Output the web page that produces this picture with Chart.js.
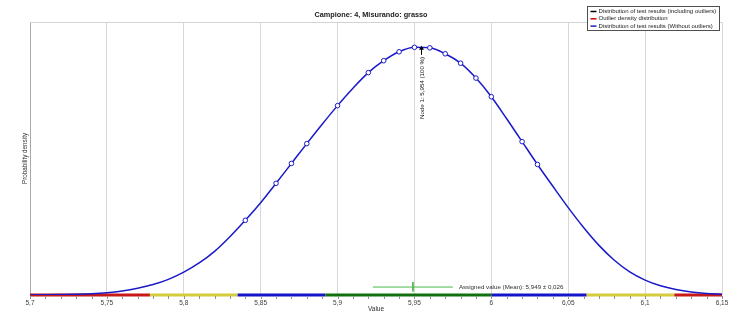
<!DOCTYPE html>
<html>
<head>
<meta charset="utf-8">
<script src="https://cdn.jsdelivr.net/npm/chart.js@4/dist/chart.umd.min.js"></script>
<style>
  body { margin: 0; background: #fff; }
  #densityChart { display: block; }
</style>
</head>
<body>
<canvas id="densityChart" width="742" height="334"></canvas>
<script>
// Density curve of the test results (without outliers)
const curveX = [5.70, 5.71, 5.72, 5.73, 5.74, 5.75, 5.76, 5.77, 5.78, 5.79,
                5.80, 5.81, 5.82, 5.83, 5.84, 5.85, 5.86, 5.87, 5.88, 5.89,
                5.90, 5.91, 5.92, 5.93, 5.94, 5.95, 5.96, 5.97, 5.98, 5.99,
                6.00, 6.01, 6.02, 6.03, 6.04, 6.05, 6.06, 6.07, 6.08, 6.09,
                6.10, 6.11, 6.12, 6.13, 6.14, 6.15];
const curveY = [0.000, 0.001, 0.002, 0.003, 0.005, 0.009, 0.016, 0.027, 0.042, 0.063,
                0.092, 0.129, 0.176, 0.235, 0.301, 0.372, 0.450, 0.530, 0.610, 0.688,
                0.763, 0.833, 0.896, 0.944, 0.980, 0.998, 0.996, 0.972, 0.934, 0.874,
                0.799, 0.710, 0.618, 0.526, 0.438, 0.352, 0.272, 0.200, 0.140, 0.093,
                0.060, 0.037, 0.022, 0.012, 0.006, 0.003];

// Individual results shown as circles on the curve
const resultX = [5.84, 5.86, 5.87, 5.88, 5.90, 5.92, 5.93, 5.94, 5.95, 5.96, 5.97, 5.98, 5.99, 6.00, 6.02, 6.03];
const resultY = [0.301, 0.450, 0.530, 0.610, 0.763, 0.896, 0.944, 0.980, 0.998, 0.996, 0.972, 0.934, 0.874, 0.799, 0.618, 0.526];

// Coloured zones along the value axis
const zoneEdges = [5.70, 5.778, 5.835, 5.892, 6.00, 6.062, 6.119, 6.15];
const zoneColors = ['#c81818', '#d4cc3c', '#1414c8', '#107010', '#1414c8', '#d4cc3c', '#c81818'];

// Assigned value and its uncertainty, mode of the density
const assignedMean = 5.949;
const assignedU = 0.026;
const nodeValue = 5.954;
const nodeShare = 100;

const xMin = 5.7, xMax = 6.15, xStep = 0.05, minorStep = 0.01;

const legendItems = [
    { text: 'Distribution of test results (including outliers)', color: '#000000' },
    { text: 'Outlier density distribution', color: '#d00000' },
    { text: 'Distribution of test results (Without outliers)', color: '#2020c8' }
];

const fontFamily = '"Liberation Sans", Arial, sans-serif';
const fmt = v => String(Number(v.toFixed(3))).replace('.', ',');

const curvePoints = curveX.map((x, i) => ({ x: x, y: curveY[i] }));
const resultPoints = resultX.map((x, i) => ({ x: x, y: resultY[i] }));
const zonePoints = zoneEdges.map(x => ({ x: x, y: 0 }));
const assignedBar = [
    { x: assignedMean - assignedU, y: 0.032 },
    { x: assignedMean + assignedU, y: 0.032 }
];
const assignedTick = [
    { x: assignedMean, y: 0.052 },
    { x: assignedMean, y: 0.014 }
];

// minor ticks, annotations and the boxed legend
const extras = {
    id: 'extras',
    afterDatasetsDraw(chart) {
        const { ctx, chartArea, scales: { x, y } } = chart;
        ctx.save();

        // frame line along the top of the plot
        ctx.strokeStyle = '#d4d4d4';
        ctx.lineWidth = 1;
        ctx.beginPath();
        ctx.moveTo(chartArea.left, chartArea.top + 0.5);
        ctx.lineTo(chartArea.right, chartArea.top + 0.5);
        ctx.stroke();

        // minor ticks under the axis
        ctx.strokeStyle = '#909090';
        for (let v = xMin; v <= xMax + 1e-9; v += minorStep) {
            const px = Math.round(x.getPixelForValue(v)) + 0.5;
            ctx.beginPath();
            ctx.moveTo(px, chartArea.bottom + 1);
            ctx.lineTo(px, chartArea.bottom + 4);
            ctx.stroke();
        }

        // assigned value label
        ctx.fillStyle = '#303030';
        ctx.font = '6.2px ' + fontFamily;
        ctx.textBaseline = 'middle';
        ctx.textAlign = 'left';
        ctx.fillText('Assigned value (Mean): ' + fmt(assignedMean) + ' \u00b1 ' + fmt(assignedU),
            x.getPixelForValue(assignedMean + assignedU) + 6, y.getPixelForValue(0.032));

        // arrow and label for the mode
        const nx = Math.round(x.getPixelForValue(nodeValue)) + 0.5;
        const tipY = y.getPixelForValue(1.0) - 1;
        ctx.strokeStyle = '#000';
        ctx.fillStyle = '#000';
        ctx.beginPath();
        ctx.moveTo(nx, tipY + 2);
        ctx.lineTo(nx, tipY + 9);
        ctx.stroke();
        ctx.beginPath();
        ctx.moveTo(nx, tipY);
        ctx.lineTo(nx - 2.5, tipY + 4);
        ctx.lineTo(nx + 2.5, tipY + 4);
        ctx.closePath();
        ctx.fill();

        ctx.translate(nx + 1, tipY + 11);
        ctx.rotate(-Math.PI / 2);
        ctx.textAlign = 'right';
        ctx.fillStyle = '#202020';
        ctx.font = '6.2px ' + fontFamily;
        ctx.fillText('Node 1: ' + fmt(nodeValue) + ' (' + nodeShare + ' %)', 0, 0);
        ctx.restore();
    },
    afterDraw(chart) {
        const { ctx } = chart;
        ctx.save();
        const bx = 587.5, by = 6.5, bw = 132, bh = 24;
        ctx.fillStyle = '#fff';
        ctx.fillRect(bx, by, bw, bh);
        ctx.strokeStyle = '#505050';
        ctx.lineWidth = 1;
        ctx.strokeRect(bx, by, bw, bh);
        ctx.font = '6px ' + fontFamily;
        ctx.textBaseline = 'middle';
        ctx.textAlign = 'left';
        legendItems.forEach((item, i) => {
            const ly = by + 5 + i * 7.3;
            ctx.strokeStyle = item.color;
            ctx.lineWidth = 1.5;
            ctx.beginPath();
            ctx.moveTo(bx + 3, ly);
            ctx.lineTo(bx + 9, ly);
            ctx.stroke();
            ctx.fillStyle = '#202020';
            ctx.fillText(item.text, bx + 11, ly);
        });
        ctx.restore();
    }
};

const ctx = document.getElementById('densityChart').getContext('2d');
new Chart(ctx, {
    type: 'line',
    data: {
        datasets: [
            {
                // individual results
                type: 'scatter',
                data: resultPoints,
                showLine: false,
                pointStyle: 'circle',
                pointRadius: 2.3,
                pointBorderWidth: 1,
                pointBorderColor: '#1a1ac8',
                pointBackgroundColor: '#ffffff',
                order: 0
            },
            {
                // density without outliers
                data: curvePoints,
                borderColor: '#1a1ac8',
                borderWidth: 1.5,
                pointRadius: 0,
                cubicInterpolationMode: 'monotone',
                fill: false,
                order: 1
            },
            {
                // assigned value with uncertainty
                data: assignedBar,
                borderColor: '#4cb84c',
                borderWidth: 1,
                pointRadius: 0,
                order: 2
            },
            {
                data: assignedTick,
                borderColor: '#4cb84c',
                borderWidth: 1,
                pointRadius: 0,
                order: 2
            },
            {
                // zones along the axis
                data: zonePoints,
                borderWidth: 3,
                borderColor: zoneColors[0],
                pointRadius: 0,
                clip: false,
                segment: {
                    borderColor: c => zoneColors[c.p0DataIndex]
                },
                order: 3
            }
        ]
    },
    options: {
        responsive: false,
        animation: false,
        layout: {
            padding: 0
        },
        plugins: {
            legend: { display: false },
            tooltip: { enabled: false },
            title: {
                display: true,
                text: 'Campione: 4, Misurando: grasso',
                color: '#202020',
                font: { size: 7.3, weight: 'bold', family: fontFamily },
                padding: { top: 10.6, bottom: 2.64 }
            }
        },
        scales: {
            x: {
                type: 'linear',
                min: xMin,
                max: xMax,
                afterFit: s => { s.height = 39; },
                grid: { color: '#d8d8d8', drawTicks: false },
                border: { display: false },
                ticks: {
                    stepSize: xStep,
                    padding: 4,
                    maxRotation: 0,
                    color: '#404040',
                    font: { size: 6.5, family: fontFamily },
                    callback: v => fmt(v)
                },
                title: {
                    display: true,
                    text: 'Value',
                    color: '#303030',
                    font: { size: 6.5, family: fontFamily },
                    padding: { top: 0, bottom: 21 }
                }
            },
            y: {
                min: 0,
                max: 1.1,
                afterFit: s => { s.width = 30; },
                grid: { display: false },
                border: { display: true, color: '#a8a8a8', width: 1 },
                ticks: { display: false },
                title: {
                    display: true,
                    text: 'Probability density',
                    color: '#303030',
                    font: { size: 6.3, family: fontFamily },
                    padding: { top: 21, bottom: 0 }
                }
            },
            // empty strip on the right side of the plot
            yRight: {
                position: 'right',
                afterFit: s => { s.width = 20; },
                grid: { display: false },
                border: { display: false },
                ticks: { display: false }
            }
        }
    },
    plugins: [extras]
});
</script>
</body>
</html>
